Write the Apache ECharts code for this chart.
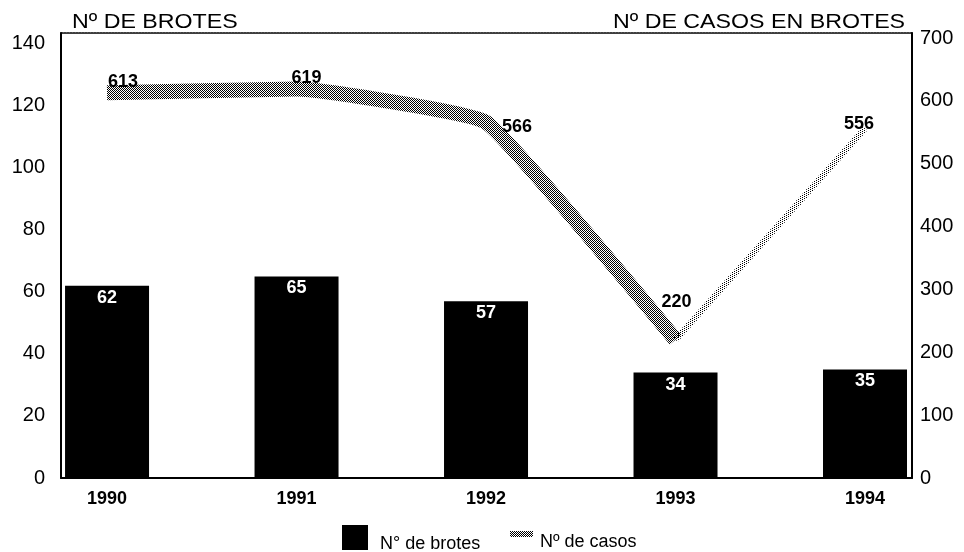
<!DOCTYPE html>
<html>
<head>
<meta charset="utf-8">
<script src="https://cdn.jsdelivr.net/npm/echarts@6/dist/echarts.min.js"></script>
<style>
html,body{margin:0;padding:0;background:#fff;}
#chart{width:964px;height:552px;}
</style>
</head>
<body>
<div id="chart"></div>
<script>
// ---- data ----
const years = ['1990', '1991', '1992', '1993', '1994'];
const brotes = [62, 65, 57, 34, 35];
const casos = [613, 619, 566, 220, 556];
const brotesTicks = [0, 20, 40, 60, 80, 100, 120, 140];
const casosTicks = [0, 100, 200, 300, 400, 500, 600, 700];
const seriesNames = ['N° de brotes', 'Nº de casos'];
const axisTitles = ['Nº DE BROTES', 'Nº DE CASOS EN BROTES'];

// ---- styles ----
const FONT = '"Liberation Sans", Arial, Helvetica, sans-serif';
const casosLabelOffsets = [[16, 4], [10, 4], [31, 19], [1, -23], [-6, 10]];

function makePattern(fn) {
  const c = document.createElement('canvas');
  c.width = 4; c.height = 4;
  const ctx = c.getContext('2d');
  ctx.fillStyle = '#000';
  for (let x = 0; x < 4; x++) for (let y = 0; y < 4; y++) if (fn(x, y)) ctx.fillRect(x, y, 1, 1);
  return { image: c, repeat: 'repeat' };
}
const denseP = makePattern((x, y) => (x + y) % 2 === 0);
const lightP = makePattern((x, y) => (x + 2 * y) % 4 === 0);

const chart = echarts.init(document.getElementById('chart'), null, { renderer: 'canvas' });

const idx = years.map((_, i) => i);
const xMin = -0.243, xMax = 4.248;

const dataA = casos.slice(0, 4).map((v, i) => ({ value: [i, v], label: { offset: casosLabelOffsets[i] } }));
const dataB = casos.slice(3).map((v, j) => {
  const i = j + 3;
  return { value: [i, v], label: { show: i === 4, offset: casosLabelOffsets[i] } };
});

const lineLabel = {
  show: true, position: 'top', distance: 5,
  formatter: p => p.value[1],
  fontFamily: FONT, fontSize: 18, fontWeight: 'bold', color: '#000'
};

function legendText(spacer, padLeft) {
  return {
    fontFamily: FONT, fontSize: 18, color: '#000',
    rich: {
      s: { height: spacer, width: padLeft },
      a: { fontFamily: FONT, fontSize: 18, color: '#000', verticalAlign: 'bottom' }
    }
  };
}

chart.setOption({
  animation: false,
  backgroundColor: '#fff',
  textStyle: { fontFamily: FONT },
  grid: { left: 61, right: 52, top: 33, bottom: 74, containLabel: false },
  legend: [
    {
      data: [{ name: seriesNames[0], icon: 'rect', itemStyle: { color: '#000' } }],
      formatter: n => '{s|}{a|' + n + '}',
      left: 342, top: 525, padding: 0, itemWidth: 26, itemHeight: 25,
      textStyle: legendText(32, 7),
      selectedMode: false
    },
    {
      data: [{ name: seriesNames[1], icon: 'rect', itemStyle: { color: denseP } }],
      formatter: n => '{s|}{a|' + n + '}',
      left: 510, top: 525, padding: 0, itemWidth: 23, itemHeight: 6,
      textStyle: legendText(34, 2),
      selectedMode: false
    }
  ],
  graphic: [
    { type: 'text', x: 72, y: 12, scaleX: 1.16,
      style: { text: axisTitles[0], font: '20px ' + FONT, fill: '#000', align: 'left', verticalAlign: 'top' } },
    { type: 'text', x: 613, y: 12, scaleX: 1.16,
      style: { text: axisTitles[1], font: '20px ' + FONT, fill: '#000', align: 'left', verticalAlign: 'top' } }
  ],
  xAxis: [
    {
      type: 'value', min: xMin, max: xMax, position: 'bottom',
      axisLine: { show: true, onZero: false, lineStyle: { color: '#000', width: 2 } },
      axisTick: { show: false },
      splitLine: { show: false },
      axisLabel: {
        customValues: idx,
        formatter: v => years[Math.round(v)],
        fontFamily: FONT, fontSize: 18, fontWeight: 'bold', color: '#000', margin: 12
      }
    },
    {
      type: 'value', min: xMin, max: xMax, position: 'top',
      axisLine: { show: true, onZero: false, lineStyle: { color: '#000', width: 1.5, type: [2, 1] } },
      axisTick: { show: false }, splitLine: { show: false }, axisLabel: { show: false }
    }
  ],
  yAxis: [
    {
      type: 'value', position: 'left',
      min: brotesTicks[0], max: 143.5, interval: brotesTicks[1] - brotesTicks[0],
      axisLine: { show: true, onZero: false, lineStyle: { color: '#000', width: 2 } },
      axisTick: { show: false }, splitLine: { show: false },
      axisLabel: {
        formatter: v => (brotesTicks.indexOf(v) >= 0 ? String(v) : ''),
        fontFamily: FONT, fontSize: 20, color: '#000', margin: 16
      }
    },
    {
      type: 'value', position: 'right',
      min: casosTicks[0], max: 708, interval: casosTicks[1] - casosTicks[0],
      axisLine: { show: true, onZero: false, lineStyle: { color: '#000', width: 2 } },
      axisTick: { show: false }, splitLine: { show: false },
      axisLabel: {
        formatter: v => (casosTicks.indexOf(v) >= 0 ? String(v) : ''),
        fontFamily: FONT, fontSize: 20, color: '#000', margin: 8
      }
    }
  ],
  series: [
    {
      name: seriesNames[0], type: 'bar', xAxisIndex: 0, yAxisIndex: 0,
      data: brotes.map((v, i) => [i, v]),
      barWidth: 84,
      itemStyle: { color: '#000' },
      label: {
        show: true, position: 'insideTop', distance: 3,
        formatter: p => p.value[1],
        fontFamily: FONT, fontSize: 18, fontWeight: 'bold', color: '#fff'
      }
    },
    {
      name: seriesNames[1], type: 'line', xAxisIndex: 0, yAxisIndex: 1,
      data: dataA, smooth: 0.1,
      symbol: 'circle', symbolSize: 1, itemStyle: { color: 'rgba(0,0,0,0)' },
      lineStyle: { color: denseP, width: 15, cap: 'butt', join: 'miter' },
      label: lineLabel, z: 3
    },
    {
      name: seriesNames[1], type: 'line', xAxisIndex: 0, yAxisIndex: 1,
      data: dataB,
      symbol: 'circle', symbolSize: 1, itemStyle: { color: 'rgba(0,0,0,0)' },
      lineStyle: { color: lightP, width: 6, cap: 'butt' },
      label: lineLabel, z: 3
    }
  ]
});
</script>
</body>
</html>
